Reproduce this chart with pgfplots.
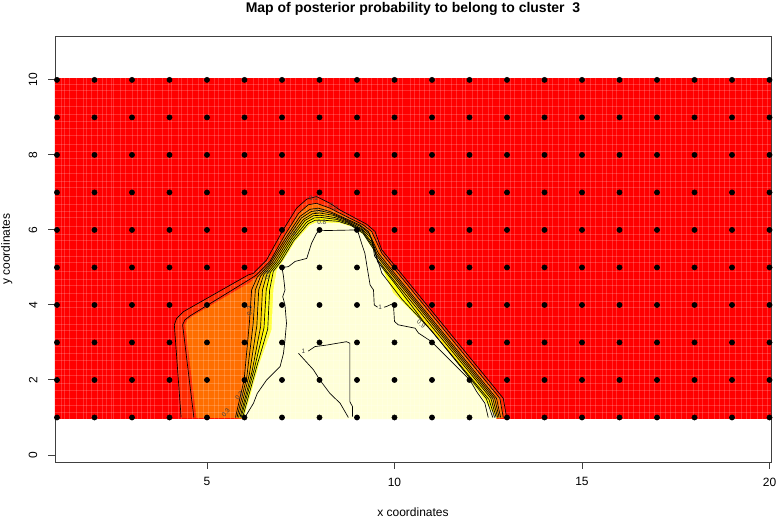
\documentclass[border=0pt]{standalone}
\usepackage{pgfplots}
\pgfplotsset{compat=1.18}
\usepackage{fontspec}
\setmainfont{Liberation Sans}
\newlength{\ux}\setlength{\ux}{0.75pt}
\definecolor{cA}{HTML}{FF2A00}
\definecolor{cB}{HTML}{FF6E00}
\definecolor{cC}{HTML}{FF8C00}
\definecolor{cD}{HTML}{FFAA00}
\definecolor{cE}{HTML}{FFC800}
\definecolor{cF}{HTML}{FFE400}
\definecolor{cG}{HTML}{FFFF00}
\definecolor{cH}{HTML}{FFFF40}
\definecolor{cI}{HTML}{FFFFD8}
\newcommand{\clab}[4]{\node[font=\fontsize{4.8}{5}\selectfont,rotate=#4,inner sep=0.3pt,text=black!75] at (axis cs:#1,#2) {#3};}
\begin{document}
\begin{tikzpicture}[x=\ux,y=\ux]
\useasboundingbox (0,0) rectangle (776,518);
\begin{axis}[
  at={(55\ux,56\ux)},anchor=south west,
  scale only axis,width=716\ux,height=426\ux,
  xmin=0.947,xmax=20.04,ymin=-0.187,ymax=11.17,
  xtick={5,10,15,20},ytick={0,2,4,6,8,10},
  axis line style={black!75,line width=0.7pt},
  tick style={black!75,line width=0.7pt},
  tick align=outside,major tick length=5.2pt,
  xtick pos=bottom,ytick pos=left,
  ticklabel style={font=\fontsize{9}{10}\selectfont},
  /pgf/number format/assume math mode=true,
  xticklabel style={yshift=-3pt},
  yticklabel style={rotate=90,anchor=south,yshift=4.5pt},
  title style={font=\bfseries\fontsize{10.5}{12}\selectfont,at={(axis description cs:0.5,1)},anchor=south,yshift=6pt},
  title={Map of posterior probability to belong to cluster\ \ 3},
  xlabel={x coordinates},
  ylabel={y coordinates},
  label style={font=\fontsize{9}{10}\selectfont},
  xlabel style={at={(axis description cs:0.5,0)},anchor=north,yshift=-31pt},
  ylabel style={at={(axis description cs:0,0.5)},anchor=south,yshift=28.5pt},
]
% red background
\addplot[fill=red,draw=none] coordinates {(0.9,0.97)(20.1,0.97)(20.1,10.05)(0.9,10.05)} --cycle;
% level polygons
\addplot[fill=cA,draw=none] coordinates {(4.31,0.985)(4.31,1.0)(4.129,3.467)(4.19,3.64)(4.37,3.82)(6.10,4.80)(6.235,4.84)(6.59,5.2)(7.03,6.0)(7.39,6.58)(7.66,6.82)(7.92,6.89)(8.28,6.71)(8.547,6.53)(9.26,6.15)(9.48,5.96)(9.66,5.47)(12.90,1.51)(12.99,1.0)(12.99,0.985)} --cycle;
\addplot[fill=cB,draw=none] coordinates {(4.72,0.985)(4.72,1.0)(4.42,3.47)(4.48,3.6)(4.63,3.71)(6.15,4.6)(6.32,4.75)(6.68,5.16)(7.08,5.87)(7.44,6.44)(7.7,6.67)(7.92,6.71)(8.28,6.58)(8.55,6.44)(9.17,6.13)(9.39,5.96)(9.66,5.38)(12.81,1.51)(12.9,1.0)(12.9,0.985)} --cycle;
\addplot[fill=cC,draw=none] coordinates {(5.76,0.985)(5.76,1.0)(5.99,2.0)(6.13,3.51)(6.19,4.40)(6.34,4.74)(6.68,5.11)(7.12,5.82)(7.48,6.36)(7.75,6.55)(7.97,6.58)(8.28,6.49)(8.55,6.37)(9.08,6.13)(9.30,5.96)(9.57,5.38)(10.1,4.72)(11.0,3.62)(12.72,1.51)(12.83,1.0)(12.83,0.985)} --cycle;
\addplot[fill=cD,draw=none] coordinates {(5.80,0.985)(5.80,1.0)(6.06,2.07)(6.23,3.48)(6.29,4.40)(6.43,4.77)(6.74,5.13)(7.16,5.80)(7.52,6.32)(7.78,6.49)(7.99,6.52)(8.32,6.44)(8.61,6.32)(9.10,6.09)(9.33,5.90)(9.53,5.36)(10.05,4.72)(10.95,3.62)(12.67,1.51)(12.79,1)(12.79,0.985)} --cycle;
\addplot[fill=cE,draw=none] coordinates {(5.84,0.985)(5.84,1)(6.13,2.15)(6.33,3.45)(6.38,4.40)(6.51,4.80)(6.80,5.14)(7.20,5.78)(7.57,6.28)(7.81,6.43)(8.01,6.45)(8.37,6.39)(8.67,6.27)(9.11,6.04)(9.37,5.80)(9.50,5.34)(10.00,4.72)(10.9,3.62)(12.62,1.51)(12.75,1)(12.75,0.985)} --cycle;
\addplot[fill=cF,draw=none] coordinates {(5.88,0.985)(5.88,1)(6.20,2.22)(6.43,3.42)(6.48,4.40)(6.60,4.83)(6.86,5.15)(7.24,5.76)(7.61,6.25)(7.84,6.38)(8.03,6.39)(8.41,6.33)(8.72,6.22)(9.13,6.0)(9.41,5.65)(9.47,5.30)(9.95,4.70)(10.85,3.60)(12.57,1.51)(12.71,1)(12.71,0.985)} --cycle;
\addplot[fill=cG,draw=none] coordinates {(5.91,0.985)(5.91,1)(6.26,2.29)(6.52,3.39)(6.58,4.40)(6.69,4.87)(6.93,5.17)(7.27,5.73)(7.66,6.21)(7.86,6.32)(8.06,6.33)(8.46,6.28)(8.78,6.17)(9.14,5.96)(9.44,5.55)(9.55,5.15)(9.95,4.65)(10.78,3.55)(12.52,1.48)(12.67,1)(12.67,0.985)} --cycle;
\addplot[fill=cH,draw=none] coordinates {(5.95,0.985)(5.95,1)(6.33,2.37)(6.62,3.36)(6.67,4.40)(6.77,4.90)(6.99,5.18)(7.31,5.71)(7.70,6.17)(7.89,6.26)(8.08,6.26)(8.50,6.23)(8.84,6.12)(9.16,5.91)(9.48,5.43)(9.66,4.85)(10.2,4.15)(11.0,3.3)(12.45,1.5)(12.62,1)(12.62,0.985)} --cycle;
\addplot[fill=cI,draw=none] coordinates {(5.99,0.955)(5.99,1.0)(6.40,2.44)(6.72,3.33)(6.77,4.40)(6.86,4.93)(7.05,5.2)(7.35,5.69)(7.75,6.13)(7.92,6.2)(8.10,6.2)(8.55,6.18)(8.90,6.07)(9.17,5.87)(9.52,5.33)(9.97,4.31)(10.64,3.64)(11.21,3.07)(12.01,2.0)(12.72,1.0)(12.72,0.955)} --cycle;
% light raster seams
\draw[white,opacity=0.18,line width=0.7pt] \foreach \x in {1.12,1.21,1.32,1.52,1.70,1.79,1.93,2.08,2.22,2.32,2.44,2.50,2.69,2.82,3.02,3.14,3.25,3.42,3.50,3.61,3.82,3.96,4.06,4.24,4.33,4.48,4.60,4.76,4.90,5.04,5.21,5.30,5.46,5.63,5.74,5.92,6.06,6.25,6.36,6.50,6.62,6.80,6.93,7.10,7.22,7.36,7.54,7.64,7.82,7.98,8.12,8.22,8.38,8.53,8.70,8.80,8.97,9.12,9.28,9.38,9.54,9.68,9.82,9.93,10.10,10.22,10.42,10.52,10.66,10.80,10.94,11.08,11.22,11.33,11.52,11.64,11.80,11.90,12.08,12.22,12.34,12.50,12.62,12.80,12.92,13.08,13.20,13.38,13.50,13.66,13.78,13.92,14.10,14.22,14.38,14.52,14.64,14.82,14.94,15.10,15.22,15.36,15.54,15.66,15.80,15.92,16.10,16.24,16.36,16.52,16.66,16.80,16.92,17.08,17.22,17.36,17.50,17.66,17.78,17.96,18.10,18.20,18.38,18.52,18.66,18.80,18.94,19.10,19.24,19.38,19.50,19.68,19.80,19.94} {(axis cs:\x,0.97)--(axis cs:\x,10.05)};
\draw[white,opacity=0.18,line width=0.7pt] \foreach \y in {1.14,1.32,1.50,1.72,1.90,2.12,2.28,2.52,2.70,2.88,3.10,3.32,3.48,3.70,3.92,4.08,4.30,4.52,4.68,4.90,5.12,5.30,5.48,5.72,5.88,6.10,6.32,6.50,6.68,6.90,7.12,7.28,7.50,7.72,7.90,8.10,8.28,8.52,8.70,8.90,9.08,9.30,9.50,9.72,9.88} {(axis cs:0.9,\y)--(axis cs:20.1,\y)};
% contours
\addplot[black,line width=0.5pt,line join=round] coordinates {(4.31,1.0)(4.129,3.467)(4.19,3.64)(4.37,3.82)(6.10,4.80)(6.235,4.84)(6.59,5.2)(7.03,6.0)(7.39,6.58)(7.66,6.82)(7.92,6.89)(8.28,6.71)(8.547,6.53)(9.26,6.15)(9.48,5.96)(9.66,5.47)(12.90,1.51)(12.99,1.0)};
\addplot[black,line width=0.5pt,line join=round] coordinates {(4.65,1.0)(4.35,3.47)(4.41,3.6)(4.55,3.71)(6.15,4.69)(6.32,4.8)(6.68,5.16)(7.08,5.87)(7.44,6.44)(7.7,6.67)(7.92,6.71)(8.28,6.58)(8.55,6.44)(9.17,6.13)(9.39,5.96)(9.66,5.38)(12.81,1.51)(12.9,1.0)};
\addplot[black,line width=0.5pt,line join=round] coordinates {(5.76,1.0)(5.99,2.0)(6.13,3.51)(6.19,4.40)(6.34,4.74)(6.68,5.11)(7.12,5.82)(7.48,6.36)(7.75,6.55)(7.97,6.58)(8.28,6.49)(8.55,6.37)(9.08,6.13)(9.30,5.96)(9.57,5.38)(10.1,4.72)(11.0,3.62)(12.72,1.51)(12.83,1.0)};
\addplot[black,line width=0.5pt,line join=round] coordinates {(5.80,1.0)(6.06,2.07)(6.23,3.48)(6.29,4.40)(6.43,4.77)(6.74,5.13)(7.16,5.80)(7.52,6.32)(7.78,6.49)(7.99,6.52)(8.32,6.44)(8.61,6.32)(9.10,6.09)(9.33,5.90)(9.53,5.36)(10.05,4.72)(10.95,3.62)(12.67,1.51)(12.79,1)};
\addplot[black,line width=0.5pt,line join=round] coordinates {(5.84,1)(6.13,2.15)(6.33,3.45)(6.38,4.40)(6.51,4.80)(6.80,5.14)(7.20,5.78)(7.57,6.28)(7.81,6.43)(8.01,6.45)(8.37,6.39)(8.67,6.27)(9.11,6.04)(9.37,5.80)(9.50,5.34)(10.00,4.72)(10.9,3.62)(12.62,1.51)(12.75,1)};
\addplot[black,line width=0.5pt,line join=round] coordinates {(5.88,1)(6.20,2.22)(6.43,3.42)(6.48,4.40)(6.60,4.83)(6.86,5.15)(7.24,5.76)(7.61,6.25)(7.84,6.38)(8.03,6.39)(8.41,6.33)(8.72,6.22)(9.13,6.0)(9.41,5.65)(9.47,5.30)(9.95,4.70)(10.85,3.60)(12.57,1.51)(12.71,1)};
\addplot[black,line width=0.5pt,line join=round] coordinates {(5.91,1)(6.26,2.29)(6.52,3.39)(6.58,4.40)(6.69,4.87)(6.93,5.17)(7.27,5.73)(7.66,6.21)(7.86,6.32)(8.06,6.33)(8.46,6.28)(8.78,6.17)(9.14,5.96)(9.44,5.55)(9.55,5.15)(9.95,4.65)(10.78,3.55)(12.52,1.48)(12.67,1)};
\addplot[black,line width=0.5pt,line join=round] coordinates {(5.95,1)(6.33,2.37)(6.62,3.36)(6.67,4.40)(6.77,4.90)(6.99,5.18)(7.31,5.71)(7.70,6.17)(7.89,6.26)(8.08,6.26)(8.50,6.23)(8.84,6.12)(9.16,5.91)(9.48,5.43)(9.66,4.85)(10.2,4.15)(11.0,3.3)(12.45,1.5)(12.62,1)};
\addplot[black,line width=0.5pt,line join=round] coordinates {(6.01,1.0)(6.24,1.38)(6.34,1.64)(6.59,2.0)(6.95,2.36)(7.04,2.71)(7.08,3.07)(7.12,3.51)(7.08,4.0)(7.02,4.22)(7.08,4.40)(7.04,4.76)(7.0,5.0)(7.17,5.02)(7.35,5.16)(7.66,5.24)(7.79,5.65)(7.92,5.91)(8.01,5.98)(9.01,6.0)(9.12,5.65)(9.21,5.38)(9.26,5.07)(9.35,4.53)(9.44,4.40)(9.46,4.0)(9.55,3.94)};
\addplot[black,line width=0.5pt,line join=round] coordinates {(9.72,3.94)(9.79,3.96)(9.97,4.04)(10.0,3.56)(10.1,3.47)(10.55,3.38)(10.64,3.25)(10.99,3.02)(12.01,2.0)(12.19,1.69)(12.41,1.38)(12.5,1.0)};
\addplot[black,line width=0.5pt,line join=round] coordinates {(7.70,2.77)(7.88,2.89)(8.19,2.93)(8.72,3.02)(8.81,2.98)(8.81,1.42)(8.88,1.29)(8.88,1.02)};
\addplot[black,line width=0.5pt,line join=round] coordinates {(7.44,2.71)(7.84,2.27)(8.01,2.0)(8.28,1.64)(8.55,1.38)(8.77,1.0)};
% contour labels
\clab{7.84}{6.84}{0.1}{0}
\clab{8.38}{6.62}{0.2}{-25}
\clab{7.98}{6.49}{0.4}{0}
\clab{8.06}{6.2}{0.8}{0}
\clab{7.35}{5.95}{0.7}{55}
\clab{6.13}{3.85}{0.3}{90}
\clab{6.61}{4.8}{0.6}{85}
\clab{5.5}{1.13}{0.3}{50}
\clab{5.86}{1.58}{0.3}{50}
\clab{10.71}{3.49}{0.9}{-40}
\clab{7.57}{2.76}{1}{0}
\clab{9.62}{3.94}{1}{0}
% observation sites
\addplot[only marks,mark=*,mark size=1.95pt,mark options={black,draw=black}] coordinates {
(1,1)(2,1)(3,1)(4,1)(5,1)(6,1)(7,1)(8,1)(9,1)(10,1)(11,1)(12,1)(13,1)(14,1)(15,1)(16,1)(17,1)(18,1)(19,1)(20,1)
(1,2)(2,2)(3,2)(4,2)(5,2)(6,2)(7,2)(8,2)(9,2)(10,2)(11,2)(12,2)(13,2)(14,2)(15,2)(16,2)(17,2)(18,2)(19,2)(20,2)
(1,3)(2,3)(3,3)(4,3)(5,3)(6,3)(7,3)(8,3)(9,3)(10,3)(11,3)(12,3)(13,3)(14,3)(15,3)(16,3)(17,3)(18,3)(19,3)(20,3)
(1,4)(2,4)(3,4)(4,4)(5,4)(6,4)(7,4)(8,4)(9,4)(10,4)(11,4)(12,4)(13,4)(14,4)(15,4)(16,4)(17,4)(18,4)(19,4)(20,4)
(1,5)(2,5)(3,5)(4,5)(5,5)(6,5)(7,5)(8,5)(9,5)(10,5)(11,5)(12,5)(13,5)(14,5)(15,5)(16,5)(17,5)(18,5)(19,5)(20,5)
(1,6)(2,6)(3,6)(4,6)(5,6)(6,6)(7,6)(8,6)(9,6)(10,6)(11,6)(12,6)(13,6)(14,6)(15,6)(16,6)(17,6)(18,6)(19,6)(20,6)
(1,7)(2,7)(3,7)(4,7)(5,7)(6,7)(7,7)(8,7)(9,7)(10,7)(11,7)(12,7)(13,7)(14,7)(15,7)(16,7)(17,7)(18,7)(19,7)(20,7)
(1,8)(2,8)(3,8)(4,8)(5,8)(6,8)(7,8)(8,8)(9,8)(10,8)(11,8)(12,8)(13,8)(14,8)(15,8)(16,8)(17,8)(18,8)(19,8)(20,8)
(1,9)(2,9)(3,9)(4,9)(5,9)(6,9)(7,9)(8,9)(9,9)(10,9)(11,9)(12,9)(13,9)(14,9)(15,9)(16,9)(17,9)(18,9)(19,9)(20,9)
(1,10)(2,10)(3,10)(4,10)(5,10)(6,10)(7,10)(8,10)(9,10)(10,10)(11,10)(12,10)(13,10)(14,10)(15,10)(16,10)(17,10)(18,10)(19,10)(20,10)
};
\end{axis}
\end{tikzpicture}
\end{document}
